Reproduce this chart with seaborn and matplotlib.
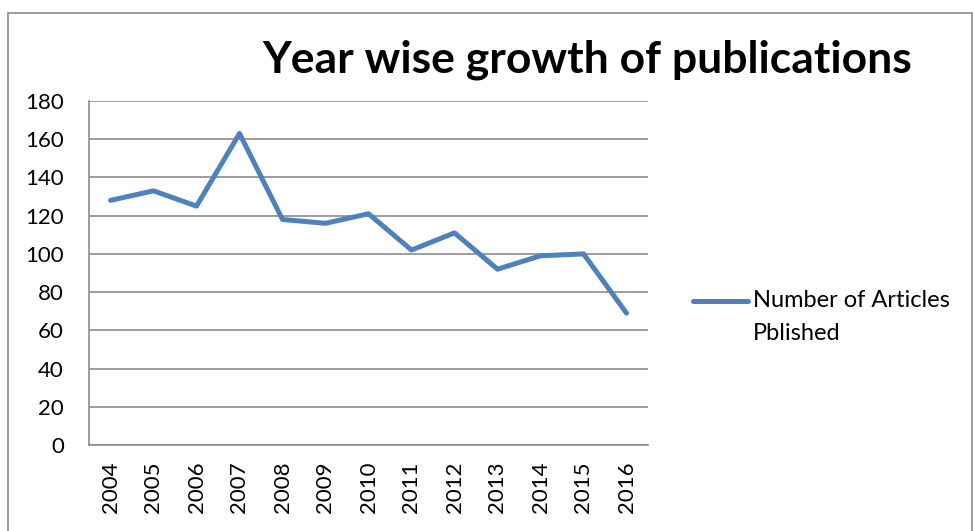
import numpy as np
import pandas as pd
import matplotlib
matplotlib.use("Agg")
import matplotlib.pyplot as plt
import seaborn as sns
from matplotlib.lines import Line2D
from matplotlib.patches import Rectangle

# ============================================================================
# DATA
# ============================================================================

years = ["2004", "2005", "2006", "2007", "2008", "2009", "2010",
         "2011", "2012", "2013", "2014", "2015", "2016"]
articles = [128, 133, 125, 163, 118, 116, 121, 102, 111, 92, 99, 100, 69]
series_name = "Number of Articles\nPblished"
title_text = "Year wise growth of publications"

df = pd.DataFrame({"pos": np.arange(len(years)), "articles": articles})

# ============================================================================
# STYLE
# ============================================================================

sns.set_style("white")
plt.rcParams["font.family"] = ["Lato", "DejaVu Sans"]
plt.rcParams["text.color"] = "black"
plt.rcParams["xtick.color"] = "black"
plt.rcParams["ytick.color"] = "black"

line_color = "#4F81BD"
grid_color = "#8C8C8C"

fig = plt.figure(figsize=(9.74, 5.31), dpi=100)
ax = fig.add_axes([89 / 974, 1 - 445 / 531, (648 - 89) / 974, (445 - 101) / 531])

sns.lineplot(
    data=df,
    x="pos",
    y="articles",
    color=line_color,
    linewidth=3.6,
    solid_capstyle="round",
    ax=ax
)

# ============================================================================
# AXES
# ============================================================================

ax.set_ylim(0, 180)
ax.set_yticks(np.arange(0, 181, 20))
ax.set_xlim(-0.5, len(years) - 0.5)
ax.set_xticks(np.arange(len(years)))
ax.set_xticklabels(years, rotation=90, fontsize=16)
ax.set_xticks(np.arange(-0.5, len(years), 1), minor=True)
ax.tick_params(axis="x", which="major", length=0, pad=12)
ax.tick_params(axis="x", which="minor", length=6, width=1.2, color=grid_color, direction="out")
ax.tick_params(axis="y", length=6, width=1.2, color=grid_color, direction="out",
               labelsize=16, pad=12, labelcolor="black")
ax.tick_params(axis="x", labelcolor="black")

ax.set_xlabel("")
ax.set_ylabel("")

ax.yaxis.grid(True, color=grid_color, linewidth=1.2)
ax.set_axisbelow(True)
for side in ["top", "right"]:
    ax.spines[side].set_visible(False)
for side in ["left", "bottom"]:
    ax.spines[side].set_color(grid_color)
    ax.spines[side].set_linewidth(1.2)

# ============================================================================
# TITLE, LEGEND, FRAME
# ============================================================================

fig.text(587 / 974, 1 - 60 / 531, title_text, ha="center", va="center",
         fontsize=32, fontweight="bold")

# legend key sits beside the first line of the label, as in the original
fig.add_artist(
    Line2D([693 / 974, 748 / 974], [1 - 301 / 531, 1 - 301 / 531],
           transform=fig.transFigure, color=line_color,
           linewidth=3.6, solid_capstyle="round")
)
fig.text(753 / 974, 1 - 317 / 531, series_name, ha="left", va="center",
         fontsize=17, linespacing=1.75)

fig.patches.append(
    Rectangle((8 / 974, -0.1), (972 - 8) / 974, (531 - 13) / 531 + 0.1,
              transform=fig.transFigure, fill=False,
              edgecolor="#8C8C8C", linewidth=1.2)
)

plt.savefig("out.png", dpi=100)
